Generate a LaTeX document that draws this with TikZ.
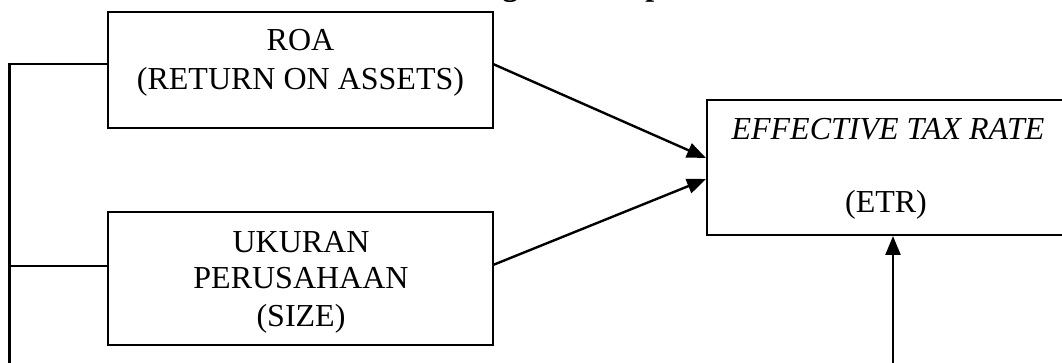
\documentclass[tikz,border=0pt]{standalone}
\usepackage{fontspec}
\setmainfont{Liberation Serif}
\usetikzlibrary{arrows.meta}
\tikzset{
  box/.style={draw=black, line width=2.4pt, inner sep=0pt, outer sep=0pt, rectangle},
  txt/.style={anchor=base, inner sep=0pt, font=\fontsize{32}{37}\selectfont},
  conn/.style={draw=black, line width=2.4pt},
  arr/.style={conn, -{Triangle[length=19pt,width=15pt]}}
}
\begin{document}
\begin{tikzpicture}[x=1pt,y=-1pt]
\clip (0,0) rectangle (1062,363);
\fill[white] (0,0) rectangle (1062,363);
% title (mostly cut off at the top)
\node[anchor=base west, inner sep=0pt, font=\fontsize{32}{37}\selectfont\bfseries] (title) at (415,-4.5) {Kerangka Konseptual};
% boxes
\node[box, minimum width=385pt, minimum height=116pt] (roa) at (300.5,70) {};
\node[box, minimum width=385pt, minimum height=133pt] (size) at (300.5,278.5) {};
\node[box, minimum width=360pt, minimum height=135pt] (etr) at (887,167.5) {};
% texts
\node[txt] (roa1) at (300.5,51) {ROA};
\node[txt] (roa2) at (300.5,90) {(RETURN ON ASSETS)};
\node[txt] (size1) at (301,252) {UKURAN};
\node[txt] (size2) at (301,288) {PERUSAHAAN};
\node[txt] (size3) at (301,326) {(SIZE)};
\node[txt, font=\fontsize{32}{37}\selectfont\itshape] (etr1) at (888,140) {EFFECTIVE TAX RATE};
\node[txt] (etr2) at (886,213) {(ETR)};
% left bracket line
\coordinate (lt) at (9.5,64);
\coordinate (lm) at (9.5,266);
\coordinate (lb) at (9.5,380);
\draw[conn, line join=miter] (lb) -- (lt) -- ([yshift=6pt]roa.west);
\draw[conn] (lm) -- ([yshift=12.5pt]size.west);
% arrows to ETR
\draw[arr] ([yshift=6pt]roa.east) -- ([yshift=9.5pt,xshift=-1pt]etr.west);
\draw[arr] ([yshift=13.5pt]size.east) -- ([yshift=-11.5pt,xshift=-1pt]etr.west);
% arrow from below
\coordinate (eb) at (893,380);
\draw[arr] (eb) -- ([xshift=6pt,yshift=-1pt]etr.south);
\end{tikzpicture}
\end{document}
